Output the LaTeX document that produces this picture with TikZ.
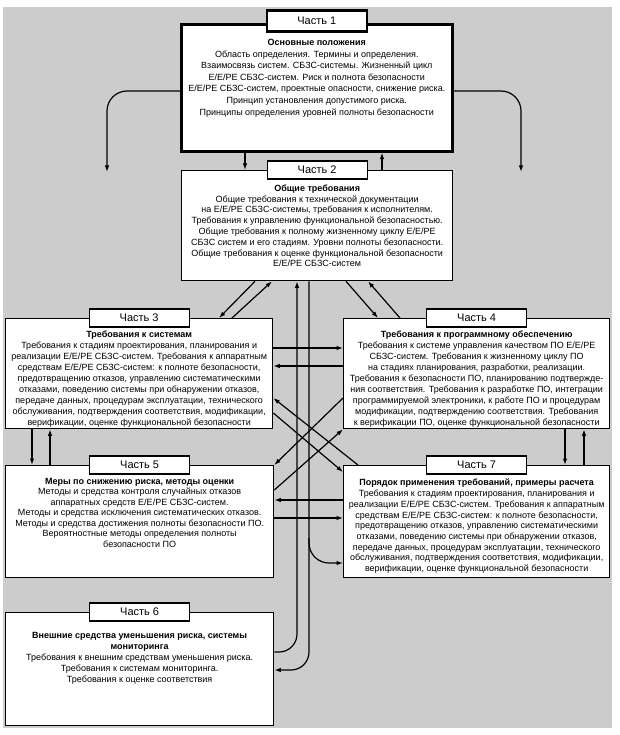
\documentclass[tikz,border=0pt]{standalone}
\usepackage{fontspec}
\setmainfont{Liberation Sans}
\usepackage{xcolor}
\usetikzlibrary{arrows.meta, positioning, calc}
\definecolor{bggray}{RGB}{204,204,204}

\begin{document}
\begin{tikzpicture}[x=1pt, y=-1pt, >={Latex[length=6.5pt,width=4.5pt]},
    box/.style={draw, fill=white, line width=1.3pt, anchor=north west, inner sep=0pt},
    tab/.style={draw, fill=white, line width=1.3pt, minimum width=100pt,
      minimum height=18pt, inner sep=0pt, font=\fontsize{11}{12}\selectfont},
    txt/.style={align=center, inner sep=0pt, font=\fontsize{9}{11}\selectfont},
    link/.style={->, line width=1.2pt}]
  \useasboundingbox (0,0) rectangle (619,735);
  \fill[bggray] (3,7) rectangle (612,728);

  % Frames
  \node[box, line width=2.6pt, minimum width=271pt, minimum height=127pt] (p1) at (180,23) {};
  \node[box, minimum width=271pt, minimum height=110pt] (p2) at (181,170) {};
  \node[box, minimum width=267pt, minimum height=110pt] (p3) at (5,318) {};
  \node[box, minimum width=266pt, minimum height=110pt] (p4) at (343,318) {};
  \node[box, minimum width=268pt, minimum height=112pt] (p5) at (5,465) {};
  \node[box, minimum width=268pt, minimum height=113pt] (p6) at (5,612) {};
  \node[box, minimum width=266pt, minimum height=112pt] (p7) at (343,465) {};

  % Tabs
  \foreach \n in {2,...,7}
    \node[tab] (t\n) at (p\n.north) {Часть \n};
  \node[tab, line width=2.6pt, minimum height=21pt] (t1) at ([yshift=2pt]p1.north) {Часть 1};

  % Texts
  \node[txt, below=16pt of p1.north, font=\fontsize{9}{11.6}\selectfont] (p1t) {\textbf{Основные положения}\\
    Область определения. Термины и определения.\\
    Взаимосвязь систем. СБЗС-системы. Жизненный цикл\\
    Е/Е/РЕ СБЗС-систем. Риск и полнота безопасности\\
    Е/Е/РЕ СБЗС-систем, проектные опасности, снижение риска.\\
    Принцип установления допустимого риска.\\
    Принципы определения уровней полноты безопасности};
  \node[txt, below=14.5pt of p2.north, font=\fontsize{9}{10.8}\selectfont] (p2t) {\textbf{Общие требования}\\
    Общие требования к технической документации\\
    на Е/Е/РЕ СБЗС-системы, требования к исполнителям.\\
    Требования к управлению функциональной безопасностью.\\
    Общие требования к полному жизненному циклу Е/Е/РЕ\\
    СБЗС систем и его стадиям. Уровни полноты безопасности.\\
    Общие требования к оценке функциональной безопасности\\
    Е/Е/РЕ СБЗС-систем};
  \node[txt, below=12.5pt of p3.north] (p3t) {\textbf{Требования к системам}\\
    Требования к стадиям проектирования, планирования и\\
    реализации Е/Е/РЕ СБЗС-систем. Требования к аппаратным\\
    средствам Е/Е/РЕ СБЗС-систем: к полноте безопасности,\\
    предотвращению отказов, управлению систематическими\\
    отказами, поведению системы при обнаружении отказов,\\
    передаче данных, процедурам эксплуатации, технического\\
    обслуживания, подтверждения соответствия, модификации,\\
    верификации, оценке функциональной безопасности};
  \node[txt, below=12.5pt of p4.north] (p4t) {\textbf{Требования к программному обеспечению}\\
    Требования к системе управления качеством ПО Е/Е/РЕ\\
    СБЗС-систем. Требования к жизненному циклу ПО\\
    на стадиях планирования, разработки, реализации.\\
    Требования к безопасности ПО, планированию подтвержде-\\
    ния соответствия. Требования к разработке ПО, интеграции\\
    программируемой электроники, к работе ПО и процедурам\\
    модификации, подтверждению соответствия. Требования\\
    к верификации ПО, оценке функциональной безопасности};
  \node[txt, below=13pt of p5.north, font=\fontsize{9}{10.5}\selectfont] (p5t) {\textbf{Меры по снижению риска, методы оценки}\\
    Методы и средства контроля случайных отказов\\
    аппаратных средств Е/Е/РЕ СБЗС-систем.\\
    Методы и средства исключения систематических отказов.\\
    Методы и средства достижения полноты безопасности ПО.\\
    Вероятностные методы определения полноты\\
    безопасности ПО};
  \node[txt, below=20pt of p6.north] (p6t) {\textbf{Внешние средства уменьшения риска, системы}\\
    \textbf{мониторинга}\\
    Требования к внешним средствам уменьшения риска.\\
    Требования к системам мониторинга.\\
    Требования к оценке соответствия};
  \node[txt, below=14pt of p7.north, font=\fontsize{9}{10.7}\selectfont] (p7t) {\textbf{Порядок применения требований, примеры расчета}\\
    Требования к стадиям проектирования, планирования и\\
    реализации Е/Е/РЕ СБЗС-систем. Требования к аппаратным\\
    средствам Е/Е/РЕ СБЗС-систем: к полноте безопасности,\\
    предотвращению отказов, управлению систематическими\\
    отказами, поведению системы при обнаружении отказов,\\
    передаче данных, процедурам эксплуатации, технического\\
    обслуживания, подтверждения соответствия, модификации,\\
    верификации, оценке функциональной безопасности};

  % Part 1 <-> Part 2
  \draw[link] (p1.south -| 245,0) -- (p2.north -| 245,0);
  \draw[link] (p2.north -| 382,0) -- (p1.south -| 382,0);

  % Part 1 side arrows
  \coordinate (l1) at (107,172);
  \coordinate (r1) at (521,172);
  \draw[link, rounded corners=20pt] (p1.west |- 0,91) -| (l1);
  \draw[link, rounded corners=20pt] (p1.east |- 0,91) -| (r1);

  % Part 2 <-> Part 3, Part 4
  \draw[link] (p2.south -| 255,0) -- (p3.north -| 219,0);
  \draw[link] (p3.north -| 232,0) -- (p2.south -| 272,0);
  \draw[link] (p2.south -| 346,0) -- (p4.north -| 378,0);
  \draw[link] (p4.north -| 400,0) -- (p2.south -| 368,0);

  % Part 3 <-> Part 4, Part 5 <-> Part 7
  \draw[link] (p3.east |- 0,348) -- (p4.west |- 0,348);
  \draw[link] (p4.west |- 0,366) -- (p3.east |- 0,366);
  \draw[link] (p7.west |- 0,500) -- (p5.east |- 0,500);
  \draw[link] (p5.east |- 0,518) -- (p7.west |- 0,518);

  % Part 3 <-> Part 5, Part 4 <-> Part 7
  \draw[link] (p3.south -| 32,0) -- (p5.north -| 32,0);
  \draw[link] (p5.north -| 50,0) -- (p3.south -| 50,0);
  \draw[link] (p4.south -| 565,0) -- (p7.north -| 565,0);
  \draw[link] (p7.north -| 584,0) -- (p4.south -| 584,0);

  % Crossing links
  \draw[link] (p7.north -| 358,0) -- (p3.east |- 0,398);
  \draw[link] (p3.east |- 0,413) -- (p7.west |- 0,472);
  \draw[link] (p4.west |- 0,398) -- (p5.north east);
  \draw[link] (p5.east |- 0,490) -- (p4.south west);

  % Part 2 <-> Part 6, Part 7
  \draw[link, rounded corners=18pt] (p6.east |- 0,652) -| (p2.south -| 297,0);
  \draw[link, rounded corners=18pt] (p2.south -| 309,0) |- (p6.east |- 0,670);
  \coordinate (br) at (309,538);
  \draw[link, rounded corners=20pt] (br) |- (p7.west |- 0,563);
\end{tikzpicture}
\end{document}
